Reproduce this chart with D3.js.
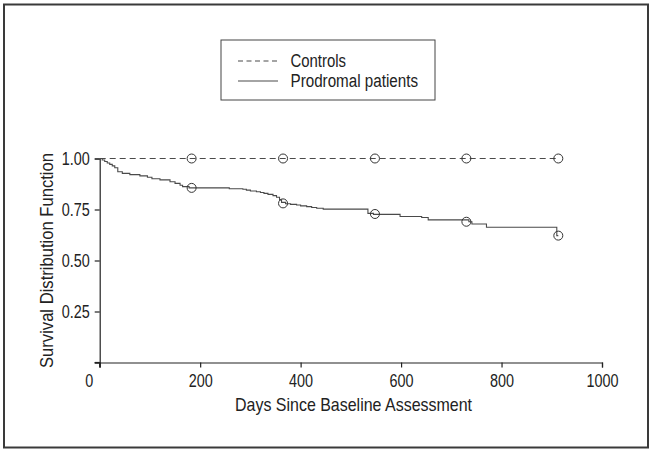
<!DOCTYPE html>
<html><head><meta charset="utf-8">
<script src="https://cdn.jsdelivr.net/npm/d3@7"></script>
<style>
html,body{margin:0;padding:0;background:#fff;}
svg text{font-family:"Liberation Sans",Arial,sans-serif;fill:#222;}
</style></head>
<body><svg id="c" width="653" height="452"></svg>
<script>
// ---- data ----
const seriesNames = ["Controls", "Prodromal patients"];
const xTicks = [0, 200, 400, 600, 800, 1000];
const yTicks = [0, 0.25, 0.5, 0.75, 1.0];
const yTickLabels = ["", "0.25", "0.50", "0.75", "1.00"];
const censorDays = [183, 365, 548, 730, 913];
const controlsDays = [0, 913];
const controlsSurv = [1.0, 1.0];
const controlsCensor = [1.0, 1.0, 1.0, 1.0, 1.0];
const prodDays = [0, 5, 10, 15, 20, 25, 30, 36, 45, 60, 80, 95, 104, 120, 140, 150, 160, 165, 178,
  258, 285, 292, 300, 312, 320, 327, 335, 345, 352, 358, 362,
  370, 380, 392, 400, 412, 422, 432, 445, 534, 545, 598, 641, 654, 735, 741, 770, 910, 913];
const prodSurv = [1.0, 0.993, 0.985, 0.978, 0.971, 0.964, 0.955, 0.935, 0.927, 0.921, 0.915, 0.908, 0.901, 0.895, 0.886, 0.878, 0.869, 0.862, 0.856,
  0.852, 0.849, 0.845, 0.841, 0.837, 0.833, 0.829, 0.824, 0.818, 0.810, 0.797, 0.785,
  0.778, 0.775, 0.772, 0.768, 0.764, 0.760, 0.756, 0.752, 0.731, 0.726, 0.716, 0.711, 0.699, 0.690, 0.679, 0.663, 0.622, 0.622];
const prodCensor = [0.856, 0.780, 0.728, 0.690, 0.622];

// ---- layout ----
const svg = d3.select("#c");
const x = d3.scaleLinear().domain([0, 1000]).range([99.7, 602]);
const y = d3.scaleLinear().domain([0, 1]).range([362.5, 158.5]);
const ink = "#222", curveCol = "#4a4a4a";
const condense = 0.8;
function squeeze(sel, target) {
  sel.each(function () {
    const w = this.getComputedTextLength();
    if (w > 0) d3.select(this).attr("textLength", target != null ? target : w * condense)
      .attr("lengthAdjust", "spacingAndGlyphs");
  });
}

// outer frame
svg.append("rect").attr("x", 4).attr("y", 4.5).attr("width", 644).attr("height", 443)
  .attr("fill", "none").attr("stroke", "#3a3a3a").attr("stroke-width", 2);

// x axis
const gx = svg.append("g").attr("transform", `translate(0,${y(0)})`)
  .call(d3.axisBottom(x).tickValues(xTicks).tickFormat(d3.format("d")).tickSizeOuter(0).tickSize(5).tickPadding(7));
gx.selectAll("text").attr("font-size", 18).attr("dx", d => d === 0 ? -11 : 0);
// y axis
const gy = svg.append("g").attr("transform", `translate(${x(0)},0)`)
  .call(d3.axisLeft(y).tickValues(yTicks).tickFormat((d, i) => yTickLabels[i]).tickSizeOuter(0).tickSize(5).tickPadding(5));
gy.selectAll("text").attr("font-size", 18);
[gx, gy].forEach(g => {
  g.selectAll("path,line").attr("stroke", ink).attr("stroke-width", 1.2);
  g.selectAll("text").attr("fill", ink);
  squeeze(g.selectAll("text"));
});
// cross at origin (tick extensions)
svg.append("line").attr("x1", x(0) - 5).attr("x2", x(0)).attr("y1", y(0)).attr("y2", y(0))
  .attr("stroke", ink).attr("stroke-width", 1.2);
svg.append("line").attr("x1", x(0)).attr("x2", x(0)).attr("y1", y(0)).attr("y2", y(0) + 5)
  .attr("stroke", ink).attr("stroke-width", 1.2);

// axis titles
svg.append("text").attr("x", 353.5).attr("y", 411).attr("text-anchor", "middle")
  .attr("font-size", 18.5).text("Days Since Baseline Assessment").call(squeeze, 237);
svg.append("text").attr("transform", `translate(52.5,${(y(0) + y(1)) / 2}) rotate(-90)`).attr("text-anchor", "middle")
  .attr("font-size", 18.5).text("Survival Distribution Function").call(squeeze, 215);

// curves
const line = d3.line().x(d => x(d[0])).y(d => y(d[1])).curve(d3.curveStepAfter);
const controlsPts = controlsDays.map((d, i) => [d, controlsSurv[i]]);
const prodPts = prodDays.map((d, i) => [d, prodSurv[i]]);
svg.append("path").attr("d", line(controlsPts)).attr("fill", "none").attr("stroke", curveCol)
  .attr("stroke-width", 1.1).attr("stroke-dasharray", "6,4");
svg.append("path").attr("d", line(prodPts)).attr("fill", "none").attr("stroke", curveCol)
  .attr("stroke-width", 1.1);

// censor markers
[controlsCensor, prodCensor].forEach(vals => {
  svg.append("g").selectAll("circle").data(censorDays).join("circle")
    .attr("cx", d => x(d)).attr("cy", (d, i) => y(vals[i])).attr("r", 4.5)
    .attr("fill", "none").attr("stroke", "#333").attr("stroke-width", 1);
});

// legend
const lg = svg.append("g");
lg.append("rect").attr("x", 221).attr("y", 40).attr("width", 214).attr("height", 60)
  .attr("fill", "none").attr("stroke", "#444").attr("stroke-width", 1);
const legendWidths = [55.5, 127.5];
seriesNames.forEach((name, i) => {
  const yy = 61 + i * 20;
  lg.append("line").attr("x1", 238).attr("x2", 278).attr("y1", yy).attr("y2", yy)
    .attr("stroke", curveCol).attr("stroke-width", 1.1)
    .attr("stroke-dasharray", i === 0 ? "5,3.5" : null);
  lg.append("text").attr("x", 290.5).attr("y", yy + 6).attr("font-size", 18).text(name)
    .call(squeeze, legendWidths[i]);
});
</script></body></html>
